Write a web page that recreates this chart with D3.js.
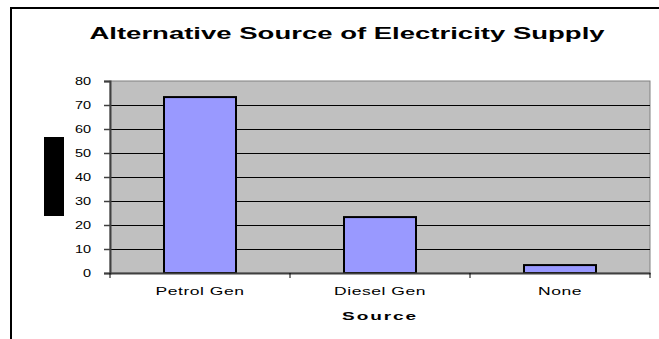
<!DOCTYPE html>
<html><head><meta charset="utf-8">
<script src="https://cdn.jsdelivr.net/npm/d3@7"></script>
<style>body{margin:0;background:#fff;}svg{display:block;}</style>
</head><body>
<svg id="chart" width="659" height="339"></svg>
<script>
const categories = ["Petrol Gen", "Diesel Gen", "None"];
const values = [73.3, 23.3, 3.3];
const yTicks = [0, 10, 20, 30, 40, 50, 60, 70, 80];
const title = "Alternative Source of Electricity Supply";
const xTitle = "Source";

const svg = d3.select("#chart");
const SX = 1.65; // horizontal stretch of text in the original
const font = "Arial, 'Liberation Sans', sans-serif";

// outer frame
svg.append("rect").attr("x", 11).attr("y", 8).attr("width", 700).attr("height", 400)
  .attr("fill", "#fff").attr("stroke", "#000").attr("stroke-width", 2);

const plot = {left: 110, right: 650, top: 81, bottom: 273};
const x = d3.scaleBand().domain(categories).range([plot.left, plot.right]).paddingInner(0.6).paddingOuter(0.3);
const xb = d3.scaleBand().domain(categories).range([plot.left, plot.right]);
const y = d3.scaleLinear().domain([0, 80]).range([plot.bottom, plot.top]);

function stext(xp, yp, str, size, weight, anchor, sx) {
  const g = svg.append("g").attr("transform", `translate(${xp},${yp}) scale(${sx || SX},1)`);
  return g.append("text").text(str).attr("font-family", font).attr("font-size", size)
    .attr("font-weight", weight).attr("text-anchor", anchor).attr("fill", "#000");
}

// plot background
svg.append("rect").attr("x", plot.left).attr("y", plot.top)
  .attr("width", plot.right - plot.left).attr("height", plot.bottom - plot.top)
  .attr("fill", "#c0c0c0").attr("stroke", "#808080").attr("stroke-width", 1);

// gridlines
svg.append("g").selectAll("line").data(yTicks.filter(d => d > 0 && d < 80)).join("line")
  .attr("x1", plot.left).attr("x2", plot.right)
  .attr("y1", d => Math.round(y(d)) + 0.5).attr("y2", d => Math.round(y(d)) + 0.5)
  .attr("stroke", "#000").attr("stroke-width", 1);

// bars
svg.append("g").selectAll("rect").data(values).join("rect")
  .attr("x", (d, i) => x(categories[i]))
  .attr("width", x.bandwidth())
  .attr("y", d => y(d))
  .attr("height", d => y(0) - y(d))
  .attr("fill", "#9999ff").attr("stroke", "#000").attr("stroke-width", 2);

// y axis
const yAxis = svg.append("g").attr("transform", `translate(${plot.left},0)`)
  .call(d3.axisLeft(y).tickValues(yTicks).tickSize(6).tickFormat(""));
yAxis.select(".domain").attr("stroke", "#404040").attr("stroke-width", 2);
yAxis.selectAll(".tick line").attr("stroke", "#404040").attr("stroke-width", 1.5);
yTicks.forEach(t => stext(91, y(t) + 4, String(t), 10, "normal", "end", 1.45));

// x axis
const xAxis = svg.append("g").attr("transform", `translate(0,${plot.bottom})`)
  .call(d3.axisBottom(xb).tickSize(0).tickFormat(""));
xAxis.select(".domain").attr("stroke", "#404040").attr("stroke-width", 2);
const bounds = [plot.left, ...categories.map(c => xb(c) + xb.bandwidth())];
svg.append("g").selectAll("line").data(bounds).join("line")
  .attr("x1", d => d).attr("x2", d => d).attr("y1", plot.bottom).attr("y2", plot.bottom + 5)
  .attr("stroke", "#000").attr("stroke-width", 1);
categories.forEach(c => stext(xb(c) + xb.bandwidth() / 2, 295, c, 10, "normal", "middle", 1.75).attr("letter-spacing", 0.3));

// titles
stext(347, 39, title, 16, "bold", "middle", 1.72);
stext(380, 320, xTitle, 10, "bold", "middle", 1.9).attr("letter-spacing", 1);

// redacted y-axis title block
svg.append("rect").attr("x", 44).attr("y", 137).attr("width", 20).attr("height", 79).attr("fill", "#000");
</script>
</body></html>
